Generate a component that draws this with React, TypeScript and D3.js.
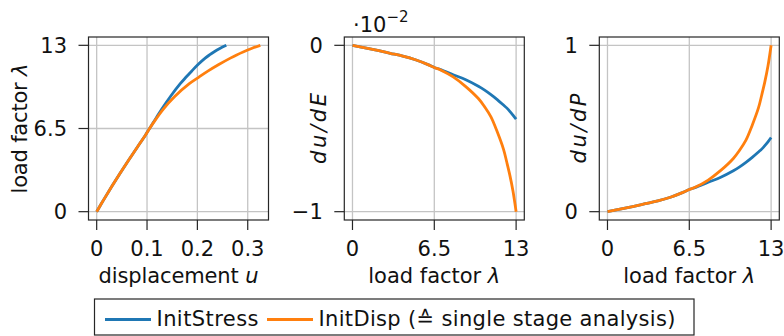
import React from "react";
import * as d3 from "d3";

// ---- data ----
const lambdaGrid = [0, 1, 2, 3, 4, 5, 6, 6.5, 7, 8, 9, 10, 10.5, 11, 11.5, 12, 12.25, 12.5, 12.75, 13];

// displacement u vs load factor
const uInitStress = [0, 0.015, 0.0305, 0.0465, 0.063, 0.08, 0.097, 0.105, 0.113, 0.129, 0.1465, 0.166, 0.1772, 0.189, 0.2013, 0.2155, 0.224, 0.2335, 0.2445, 0.2575];
const uInitDisp = [0, 0.015, 0.0305, 0.0465, 0.063, 0.08, 0.097, 0.105, 0.1135, 0.132, 0.155, 0.184, 0.2025, 0.2215, 0.2425, 0.2655, 0.278, 0.292, 0.3075, 0.325];

// du/dE (x 10^-2)
const dudEInitStress = [0, -0.015, -0.031, -0.048, -0.065, -0.087, -0.116, -0.133, -0.146, -0.177, -0.207, -0.246, -0.269, -0.296, -0.326, -0.359, -0.376, -0.397, -0.42, -0.444];
const dudEInitDisp = [0, -0.015, -0.031, -0.048, -0.065, -0.087, -0.116, -0.133, -0.148, -0.19, -0.248, -0.32, -0.37, -0.43, -0.52, -0.625, -0.7, -0.78, -0.875, -1.0];

// du/dP
const dudPInitStress = [0, 0.015, 0.031, 0.048, 0.065, 0.087, 0.116, 0.133, 0.146, 0.177, 0.207, 0.246, 0.269, 0.296, 0.326, 0.359, 0.376, 0.397, 0.42, 0.446];
const dudPInitDisp = [0, 0.015, 0.031, 0.048, 0.065, 0.087, 0.116, 0.133, 0.148, 0.19, 0.248, 0.32, 0.37, 0.43, 0.52, 0.625, 0.7, 0.78, 0.875, 1.0];

const uTicks = [0, 0.1, 0.2, 0.3];
const uTickLabels = ["0", "0.1", "0.2", "0.3"];
const lambdaTicks = [0, 6.5, 13];
const lambdaTickLabels = ["0", "6.5", "13"];
const dudETicks = [-1, 0];
const dudETickLabels = ["\u22121", "0"];
const dudPTicks = [0, 1];
const dudPTickLabels = ["0", "1"];

const seriesNames = ["InitStress", "InitDisp (\u2259 single stage analysis)"];
const seriesColors = ["#1f77b4", "#ff7f0e"];

// ---- layout ----
const W = 784;
const H = 336;
const TOP = 37;
const BOTTOM = 220;
const PW = 180;
const FONT = '"DejaVu Sans", sans-serif';
const FS = 21;
const FRAME = "#262626";
const GRID = "#c4c4c4";
const txt = { fontFamily: FONT, fontSize: FS } as React.CSSProperties;

function pad(ext: [number, number]): [number, number] {
  const r = ext[1] - ext[0];
  return [ext[0] - 0.05 * r, ext[1] + 0.05 * r];
}

type Series = { x: number[]; y: number[]; color: string };

function Panel(props: {
  left: number;
  xDomain: [number, number];
  yDomain: [number, number];
  xTicks: number[];
  xTickLabels: string[];
  yTicks: number[];
  yTickLabels: string[];
  series: Series[];
  xLabel: React.ReactNode;
  xLabelLen: number;
  yLabel: React.ReactNode;
  yLabelX: number;
  yLabelLen: number;
}) {
  const { left } = props;
  const right = left + PW;
  const sx = d3.scaleLinear().domain(props.xDomain).range([left, right]);
  const sy = d3.scaleLinear().domain(props.yDomain).range([BOTTOM, TOP]);
  const cy = (TOP + BOTTOM) / 2;
  return (
    <g>
      {props.xTicks.map((t, i) => (
        <g key={"xt" + i}>
          <line x1={sx(t)} x2={sx(t)} y1={TOP} y2={BOTTOM} stroke={GRID} strokeWidth={1.3} />
          <line x1={sx(t)} x2={sx(t)} y1={BOTTOM} y2={BOTTOM + 10} stroke={FRAME} strokeWidth={1.2} />
          <text x={sx(t)} y={256} textAnchor="middle" style={txt} fill="#111">
            {props.xTickLabels[i]}
          </text>
        </g>
      ))}
      {props.yTicks.map((t, i) => (
        <g key={"yt" + i}>
          <line x1={left} x2={right} y1={sy(t)} y2={sy(t)} stroke={GRID} strokeWidth={1.3} />
          <line x1={left - 10} x2={left} y1={sy(t)} y2={sy(t)} stroke={FRAME} strokeWidth={1.2} />
          <text x={left - 21.5} y={sy(t) + 7.6} textAnchor="end" style={txt} fill="#111">
            {props.yTickLabels[i]}
          </text>
        </g>
      ))}
      {props.series.map((s, i) => {
        const pts = s.x.map((xv, k) => [xv, s.y[k]] as [number, number]);
        const line = d3
          .line<[number, number]>()
          .x((d) => sx(d[0]))
          .y((d) => sy(d[1]))
          .curve(d3.curveCatmullRom.alpha(0.5));
        return (
          <path key={"s" + i} d={line(pts) || ""} fill="none" stroke={s.color} strokeWidth={2.8} />
        );
      })}
      <rect x={left} y={TOP} width={PW} height={BOTTOM - TOP} fill="none" stroke={FRAME} strokeWidth={1.2} />
      <text
        x={(left + right) / 2}
        y={283}
        textAnchor="middle"
        style={txt}
        fill="#111"
        textLength={props.xLabelLen}
        lengthAdjust="spacing"
      >
        {props.xLabel}
      </text>
      <text
        transform={`translate(${props.yLabelX},${cy}) rotate(-90)`}
        textAnchor="middle"
        style={txt}
        fill="#111"
        textLength={props.yLabelLen}
        lengthAdjust="spacing"
      >
        {props.yLabel}
      </text>
    </g>
  );
}

export default function App() {
  const lamDom = pad([0, 13]);
  const lambdaLabel = (
    <>
      load factor <tspan fontStyle="italic">λ</tspan>
    </>
  );
  return (
    <svg
      width={W}
      height={H}
      viewBox={`0 0 ${W} ${H}`}
      style={{ position: "absolute", left: 0, top: 0, background: "#fff" }}
    >
      <Panel
        left={88.5}
        xDomain={pad([0, d3.max(uInitDisp) as number])}
        yDomain={lamDom}
        xTicks={uTicks}
        xTickLabels={uTickLabels}
        yTicks={lambdaTicks}
        yTickLabels={lambdaTickLabels}
        series={[
          { x: uInitStress, y: lambdaGrid, color: seriesColors[0] },
          { x: uInitDisp, y: lambdaGrid, color: seriesColors[1] },
        ]}
        xLabel={
          <>
            displacement <tspan fontStyle="italic">u</tspan>
          </>
        }
        xLabelLen={160}
        yLabel={lambdaLabel}
        yLabelX={27}
        yLabelLen={130}
      />
      <Panel
        left={344.3}
        xDomain={lamDom}
        yDomain={pad([-1, 0])}
        xTicks={lambdaTicks}
        xTickLabels={lambdaTickLabels}
        yTicks={dudETicks}
        yTickLabels={dudETickLabels}
        series={[
          { x: lambdaGrid, y: dudEInitStress, color: seriesColors[0] },
          { x: lambdaGrid, y: dudEInitDisp, color: seriesColors[1] },
        ]}
        xLabel={lambdaLabel}
        xLabelLen={132}
        yLabel={<tspan fontStyle="italic">du/dE</tspan>}
        yLabelX={326}
        yLabelLen={71}
      />
      <Panel
        left={599.3}
        xDomain={lamDom}
        yDomain={pad([0, 1])}
        xTicks={lambdaTicks}
        xTickLabels={lambdaTickLabels}
        yTicks={dudPTicks}
        yTickLabels={dudPTickLabels}
        series={[
          { x: lambdaGrid, y: dudPInitStress, color: seriesColors[0] },
          { x: lambdaGrid, y: dudPInitDisp, color: seriesColors[1] },
        ]}
        xLabel={lambdaLabel}
        xLabelLen={132}
        yLabel={<tspan fontStyle="italic">du/dP</tspan>}
        yLabelX={586}
        yLabelLen={70}
      />
      {/* scale marker */}
      <text x={353} y={32} style={txt} fill="#111">
        ·10
        <tspan style={{ fontSize: 15 }} dy={-10}>
          {"\u22122"}
        </tspan>
      </text>
      {/* legend */}
      <g>
        <rect x={94.5} y={299} width={599.5} height={36} fill="#fff" stroke={FRAME} strokeWidth={1.2} />
        <line x1={105} x2={151} y1={319.5} y2={319.5} stroke={seriesColors[0]} strokeWidth={2.8} />
        <text x={156.5} y={325.5} style={txt} fill="#111" textLength={102} lengthAdjust="spacing">
          {seriesNames[0]}
        </text>
        <line x1={267} x2={313} y1={319.5} y2={319.5} stroke={seriesColors[1]} strokeWidth={2.8} />
        <text x={318.5} y={325.5} style={txt} fill="#111" textLength={357} lengthAdjust="spacing">
          {seriesNames[1]}
        </text>
      </g>
    </svg>
  );
}
